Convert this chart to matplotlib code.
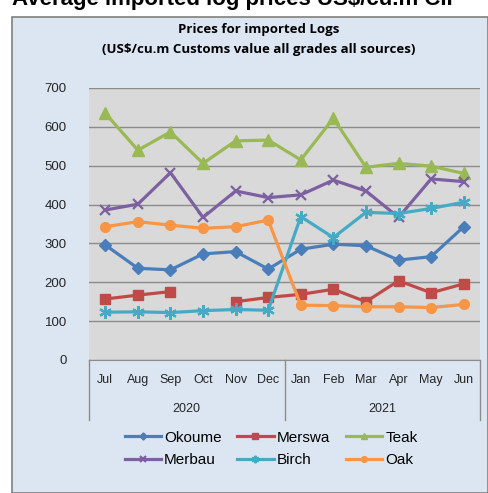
import numpy as np
import matplotlib
matplotlib.use("Agg")
import matplotlib.pyplot as plt
from matplotlib.patches import Rectangle

months = ["Jul", "Aug", "Sep", "Oct", "Nov", "Dec", "Jan", "Feb", "Mar", "Apr", "May", "Jun"]
years = ["2020", "2021"]
okoume = [296, 236, 232, 273, 279, 234, 285, 298, 294, 257, 266, 343]
merswa = [157, 167, 176, np.nan, 150, 161, 169, 182, 150, 204, 173, 196]
teak = [635, 540, 587, 506, 564, 566, 515, 622, 496, 506, 499, 480]
merbau = [386, 401, 482, 367, 435, 418, 425, 463, 435, 367, 466, 459]
birch = [123, 124, 122, 127, 130, 128, 369, 315, 380, 377, 390, 406]
oak = [343, 356, 347, 339, 343, 360, 141, 140, 137, 137, 135, 143]

series = [
    ("Okoume", okoume, "#4A7EBB", "D", 6),
    ("Merswa", merswa, "#BE4B48", "s", 7),
    ("Teak", teak, "#98B954", "^", 8),
    ("Merbau", merbau, "#7D60A0", "x", 7),
    ("Birch", birch, "#46AAC5", (6, 2, 0), 9),
    ("Oak", oak, "#F79646", "o", 7),
]

W, H = 488, 493
fig = plt.figure(figsize=(W / 100, H / 100), dpi=100)
fig.patch.set_facecolor("white")

# chart frame
fig.patches.append(Rectangle((12 / W, 0), (W - 12) / W, (H - 17) / H, transform=fig.transFigure,
                             facecolor="#DCE6F2", edgecolor="#7F7F7F", lw=1.2, zorder=-10))

# cut-off page heading
fig.text(12 / W, 1 - 5 / H, "Average imported log prices US$/cu.m CIF", fontsize=16,
         fontweight="bold", family="Liberation Sans", color="black", ha="left", va="baseline")

fig.text(259 / W, 1 - 30 / H, "Prices for imported Logs", fontsize=9.5, fontweight="bold",
         family="Open Sans", ha="center", va="center", color="black")
fig.text(259 / W, 1 - 50 / H, "(US$/cu.m Customs value all grades all sources)", fontsize=9.5,
         fontweight="bold", family="Open Sans", ha="center", va="center", color="black")

ax = fig.add_axes([89 / W, (H - 360) / H, (480 - 89) / W, (360 - 88) / H], zorder=2)
ax.set_facecolor("#D9D9D9")
x = np.arange(len(months))
handles = {}
for name, vals, col, mk, ms in series:
    ln, = ax.plot(x, vals, color=col, lw=2.3, marker=mk, markersize=ms,
                  markeredgecolor=col, markerfacecolor=col,
                  markeredgewidth=1.6 if mk in ("x", (6, 2, 0)) else 1,
                  label=name, zorder=3)
    handles[name] = ln

ax.set_xlim(-0.5, 11.5)
ax.set_ylim(0, 700)
ax.set_yticks(np.arange(0, 701, 100))
ax.yaxis.grid(True, color="#8C8C8C", lw=1)
ax.set_axisbelow(True)
for s in ["top", "right", "left"]:
    ax.spines[s].set_visible(False)
ax.spines["bottom"].set_color("#8C8C8C")
ax.tick_params(axis="y", length=0, pad=16, labelsize=9.5, labelcolor="#262626")
ax.set_xticks([])
for lab in ax.get_yticklabels():
    lab.set_family("Liberation Sans")

trans = ax.get_xaxis_transform()
for i, m in enumerate(months):
    ax.text(i, -0.0735, m, transform=trans, ha="center", va="center", fontsize=9,
            family="Liberation Sans", color="#262626")
for j, yr in enumerate(years):
    ax.text(2.5 + 6 * j, -0.18, yr, transform=trans, ha="center", va="center", fontsize=9,
            family="Liberation Sans", color="#262626")
for xb in [-0.5, 5.5, 11.5]:
    ax.plot([xb, xb], [0, -0.22], transform=trans, color="#8C8C8C", lw=1, clip_on=False)

order = ["Okoume", "Merbau", "Merswa", "Birch", "Teak", "Oak"]
leg = fig.legend([handles[n] for n in order], order, ncol=3, loc="center",
                 bbox_to_anchor=(271 / W, 1 - 449 / H), frameon=False, handlelength=2.4,
                 columnspacing=1.0, handletextpad=0.2, labelspacing=0.55,
                 prop={"family": "Liberation Sans", "size": 11}, markerscale=0.6)

fig.savefig("out.png", dpi=100)
